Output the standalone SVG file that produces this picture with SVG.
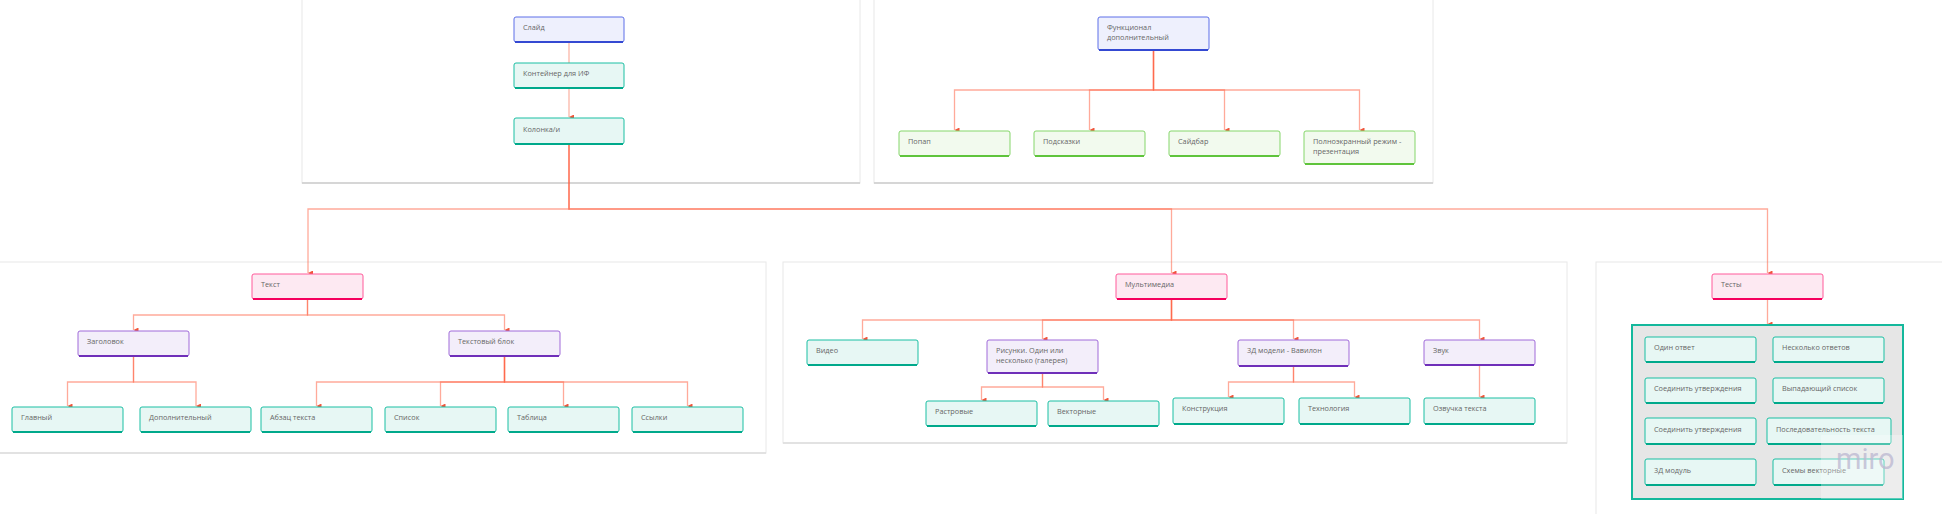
<svg xmlns="http://www.w3.org/2000/svg" width="1942" height="514" viewBox="0 0 1942 514">
<style>
text{font-family:"Open Sans","Liberation Sans",sans-serif;font-size:7.3px;fill:#666}
.frame{fill:#fff;stroke:#e8e8e8;stroke-width:1}
.fb{stroke:#cdcdcd;stroke-width:1.5;fill:none}
.nd rect{stroke-width:1}
.sh{stroke-width:2;fill:none}
.blue rect{fill:#eef0fd;stroke:#5d6fe8}.blue .sh{stroke:#3449d2}
.teal rect{fill:#e7f7f4;stroke:#1bbfa3}.teal .sh{stroke:#00a98b}
.pink rect{fill:#fde9f2;stroke:#ff5a9a}.pink .sh{stroke:#f5005e}
.purple rect{fill:#f3eefa;stroke:#a06ad9}.purple .sh{stroke:#6f2fb9}
.green rect{fill:#f2faee;stroke:#85d66a}.green .sh{stroke:#5fc43c}
#connectors path{fill:none;stroke:#ff6547;stroke-opacity:0.55;stroke-width:1.3}
</style>
<defs>
<marker id="ah" viewBox="0 0 6 6" refX="3" refY="6" markerWidth="5" markerHeight="5" markerUnits="userSpaceOnUse" orient="auto-start-reverse">
<path d="M0 0 L6 0 L3 6 Z" fill="#f0553a"/>
</marker>
</defs>
<rect width="1942" height="514" fill="#fff"/>
<g id="frames">
<rect class="frame" x="302" y="-2" width="558" height="185"/><path class="fb" d="M302 183 H860"/>
<rect class="frame" x="874" y="-2" width="559" height="185"/><path class="fb" d="M874 183 H1433"/>
<rect class="frame" x="-2" y="262" width="768" height="191"/><path class="fb" d="M-2 453 H766" style="stroke:#dcdcdc"/>
<rect class="frame" x="783" y="262" width="784" height="181"/><path class="fb" d="M783 443 H1567" style="stroke:#dcdcdc"/>
<rect class="frame" x="1596" y="262" width="350" height="260"/>
</g>
<g id="connectors">
<path d="M569 42 V63" style="stroke:#fbb6a8;stroke-opacity:1"/>
<path d="M569 88 V117" marker-end="url(#ah)" style="stroke:#fbb6a8;stroke-opacity:1"/>
<path d="M569 144 V209 H308 V273" marker-end="url(#ah)"/>
<path d="M569 144 V209 H1171.5 V273" marker-end="url(#ah)"/>
<path d="M569 144 V209 H1767.5 V273" marker-end="url(#ah)"/>
<path d="M1153.5 50 V90 H954.5 V130" marker-end="url(#ah)"/>
<path d="M1153.5 50 V90 H1089.5 V130" marker-end="url(#ah)"/>
<path d="M1153.5 50 V90 H1224.5 V130" marker-end="url(#ah)"/>
<path d="M1153.5 50 V90 H1359.5 V130" marker-end="url(#ah)"/>
<path d="M307.5 299 V315 H133.5 V330" marker-end="url(#ah)"/>
<path d="M307.5 299 V315 H504.5 V330" marker-end="url(#ah)"/>
<path d="M133.5 356 V382 H67.5 V406" marker-end="url(#ah)"/>
<path d="M133.5 356 V382 H196 V406" marker-end="url(#ah)"/>
<path d="M504.5 356 V382 H316.5 V406" marker-end="url(#ah)"/>
<path d="M504.5 356 V382 H440.5 V406" marker-end="url(#ah)"/>
<path d="M504.5 356 V382 H563.5 V406" marker-end="url(#ah)"/>
<path d="M504.5 356 V382 H687.5 V406" marker-end="url(#ah)"/>
<path d="M1171.5 299 V320 H862.5 V339" marker-end="url(#ah)"/>
<path d="M1171.5 299 V320 H1042.5 V339" marker-end="url(#ah)"/>
<path d="M1171.5 299 V320 H1293.5 V339" marker-end="url(#ah)"/>
<path d="M1171.5 299 V320 H1479.5 V339" marker-end="url(#ah)"/>
<path d="M1042.5 373 V387 H981.5 V400" marker-end="url(#ah)"/>
<path d="M1042.5 373 V387 H1103.5 V400" marker-end="url(#ah)"/>
<path d="M1293.5 366 V382 H1228.5 V397" marker-end="url(#ah)"/>
<path d="M1293.5 366 V382 H1354.5 V397" marker-end="url(#ah)"/>
<path d="M1479.5 365 V397" marker-end="url(#ah)"/>
<path d="M1767.5 299 V324" marker-end="url(#ah)"/>
</g>
<g id="n-slide" class="nd blue"><rect x="514" y="17" width="110" height="25" rx="2"/><path class="sh" d="M515 42 H623"/><text x="523" y="30">Слайд</text></g>
<g id="n-container" class="nd teal"><rect x="514" y="63" width="110" height="25" rx="2"/><path class="sh" d="M515 88 H623"/><text x="523" y="76">Контейнер для ИФ</text></g>
<g id="n-columns" class="nd teal"><rect x="514" y="118" width="110" height="26" rx="2"/><path class="sh" d="M515 144 H623"/><text x="523" y="132">Колонка/и</text></g>
<g id="n-func" class="nd blue"><rect x="1098" y="17" width="111" height="33" rx="2"/><path class="sh" d="M1099 50 H1208"/><text x="1107" y="30">Функционал</text><text x="1107" y="40">дополнительный</text></g>
<g id="n-popup" class="nd green"><rect x="899" y="131" width="111" height="25" rx="2"/><path class="sh" d="M900 156 H1009"/><text x="908" y="144">Попап</text></g>
<g id="n-hints" class="nd green"><rect x="1034" y="131" width="111" height="25" rx="2"/><path class="sh" d="M1035 156 H1144"/><text x="1043" y="144">Подсказки</text></g>
<g id="n-sidebar" class="nd green"><rect x="1169" y="131" width="111" height="25" rx="2"/><path class="sh" d="M1170 156 H1279"/><text x="1178" y="144">Сайдбар</text></g>
<g id="n-fullscreen" class="nd green"><rect x="1304" y="131" width="111" height="33" rx="2"/><path class="sh" d="M1305 164 H1414"/><text x="1313" y="144">Полноэкранный режим -</text><text x="1313" y="154">презентация</text></g>
<g id="n-text" class="nd pink"><rect x="252" y="274" width="111" height="25" rx="2"/><path class="sh" d="M253 299 H362"/><text x="261" y="287">Текст</text></g>
<g id="n-heading" class="nd purple"><rect x="78" y="331" width="111" height="25" rx="2"/><path class="sh" d="M79 356 H188"/><text x="87" y="344">Заголовок</text></g>
<g id="n-textblock" class="nd purple"><rect x="449" y="331" width="111" height="25" rx="2"/><path class="sh" d="M450 356 H559"/><text x="458" y="344">Текстовый блок</text></g>
<g id="n-main" class="nd teal"><rect x="12" y="407" width="111" height="25" rx="2"/><path class="sh" d="M13 432 H122"/><text x="21" y="420">Главный</text></g>
<g id="n-extra" class="nd teal"><rect x="140" y="407" width="111" height="25" rx="2"/><path class="sh" d="M141 432 H250"/><text x="149" y="420">Дополнительный</text></g>
<g id="n-para" class="nd teal"><rect x="261" y="407" width="111" height="25" rx="2"/><path class="sh" d="M262 432 H371"/><text x="270" y="420">Абзац текста</text></g>
<g id="n-list" class="nd teal"><rect x="385" y="407" width="111" height="25" rx="2"/><path class="sh" d="M386 432 H495"/><text x="394" y="420">Список</text></g>
<g id="n-table" class="nd teal"><rect x="508" y="407" width="111" height="25" rx="2"/><path class="sh" d="M509 432 H618"/><text x="517" y="420">Таблица</text></g>
<g id="n-links" class="nd teal"><rect x="632" y="407" width="111" height="25" rx="2"/><path class="sh" d="M633 432 H742"/><text x="641" y="420">Ссылки</text></g>
<g id="n-multimedia" class="nd pink"><rect x="1116" y="274" width="111" height="25" rx="2"/><path class="sh" d="M1117 299 H1226"/><text x="1125" y="287">Мультимедиа</text></g>
<g id="n-video" class="nd teal"><rect x="807" y="340" width="111" height="25" rx="2"/><path class="sh" d="M808 365 H917"/><text x="816" y="353">Видео</text></g>
<g id="n-pictures" class="nd purple"><rect x="987" y="340" width="111" height="33" rx="2"/><path class="sh" d="M988 373 H1097"/><text x="996" y="353">Рисунки. Один или</text><text x="996" y="363">несколько (галерея)</text></g>
<g id="n-3d" class="nd purple"><rect x="1238" y="340" width="111" height="26" rx="2"/><path class="sh" d="M1239 366 H1348"/><text x="1247" y="353">3Д модели - Вавилон</text></g>
<g id="n-sound" class="nd purple"><rect x="1424" y="340" width="111" height="25" rx="2"/><path class="sh" d="M1425 365 H1534"/><text x="1433" y="353">Звук</text></g>
<g id="n-raster" class="nd teal"><rect x="926" y="401" width="111" height="25" rx="2"/><path class="sh" d="M927 426 H1036"/><text x="935" y="414">Растровые</text></g>
<g id="n-vector" class="nd teal"><rect x="1048" y="401" width="111" height="25" rx="2"/><path class="sh" d="M1049 426 H1158"/><text x="1057" y="414">Векторные</text></g>
<g id="n-construct" class="nd teal"><rect x="1173" y="398" width="111" height="26" rx="2"/><path class="sh" d="M1174 424 H1283"/><text x="1182" y="411">Конструкция</text></g>
<g id="n-tech" class="nd teal"><rect x="1299" y="398" width="111" height="26" rx="2"/><path class="sh" d="M1300 424 H1409"/><text x="1308" y="411">Технология</text></g>
<g id="n-voice" class="nd teal"><rect x="1424" y="398" width="111" height="26" rx="2"/><path class="sh" d="M1425 424 H1534"/><text x="1433" y="411">Озвучка текста</text></g>
<g id="n-tests" class="nd pink"><rect x="1712" y="274" width="111" height="25" rx="2"/><path class="sh" d="M1713 299 H1822"/><text x="1721" y="287">Тесты</text></g>
<g id="n-tests-box"><rect x="1632" y="325" width="271" height="174" fill="#e6e6e6" stroke="#14b89c" stroke-width="2"/></g>
<g id="n-t1" class="nd teal"><rect x="1645" y="337" width="111" height="25" rx="2"/><path class="sh" d="M1646 362 H1755"/><text x="1654" y="350">Один ответ</text></g>
<g id="n-t2" class="nd teal"><rect x="1773" y="337" width="111" height="25" rx="2"/><path class="sh" d="M1774 362 H1883"/><text x="1782" y="350">Несколько ответов</text></g>
<g id="n-t3" class="nd teal"><rect x="1645" y="378" width="111" height="25" rx="2"/><path class="sh" d="M1646 403 H1755"/><text x="1654" y="391">Соединить утверждения</text></g>
<g id="n-t4" class="nd teal"><rect x="1773" y="378" width="111" height="25" rx="2"/><path class="sh" d="M1774 403 H1883"/><text x="1782" y="391">Выпадающий список</text></g>
<g id="n-t5" class="nd teal"><rect x="1645" y="418" width="111" height="26" rx="2"/><path class="sh" d="M1646 444 H1755"/><text x="1654" y="432">Соединить утверждения</text></g>
<g id="n-t6" class="nd teal"><rect x="1767" y="418" width="124" height="26" rx="2"/><path class="sh" d="M1768 444 H1890"/><text x="1776" y="432">Последовательность текста</text></g>
<g id="n-t7" class="nd teal"><rect x="1645" y="459" width="111" height="26" rx="2"/><path class="sh" d="M1646 485 H1755"/><text x="1654" y="473">3Д модуль</text></g>
<g id="n-t8" class="nd teal"><rect x="1773" y="459" width="111" height="26" rx="2"/><path class="sh" d="M1774 485 H1883"/><text x="1782" y="473">Схемы векторные</text></g>
<g id="watermark"><rect x="1821" y="435" width="82" height="64" fill="#ffffff" fill-opacity="0.3"/><text x="1836" y="469" style="font-size:29px;fill:#bdb9d2;fill-opacity:0.8;font-family:Roboto,'Liberation Sans',sans-serif">miro</text></g>
</svg>
